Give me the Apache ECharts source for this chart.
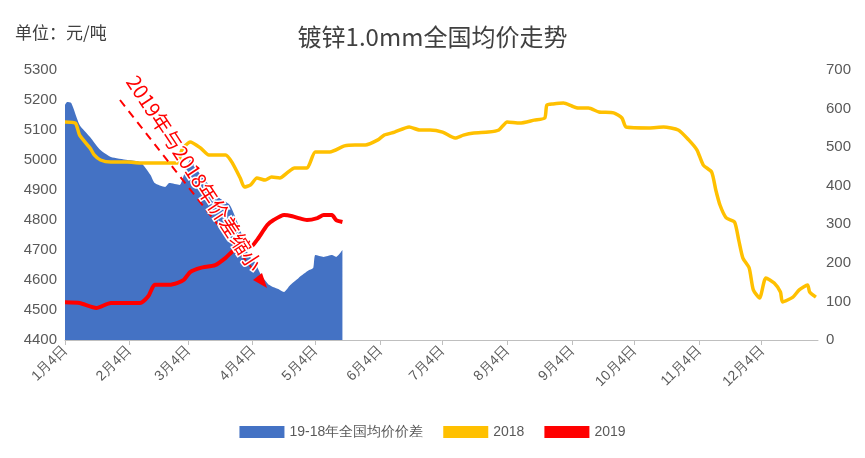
<!DOCTYPE html>
<html><head><meta charset="utf-8">
<script src="https://cdn.jsdelivr.net/npm/echarts@6/dist/echarts.min.js"></script>
<style>html,body{margin:0;padding:0;background:#fff}#c{width:865px;height:458px}</style>
</head><body><div id="c"></div>
<script>
// day offsets from Jan 4
const days2018 = [0,5,7,12,14,17,22,30,36,41,45,54,56,60,65,69,77,80,84,86,89,92,96,99,103,107,110,116,120,127,134,139,144,150,153,158,165,170,175,181,187,191,196,203,208,212,218,225,230,231,234,239,243,246,251,256,263,267,269,280,287,294,299,303,306,310,312,314,317,321,323,325,328,330,333,336,340,343,344,349,352,356,357,360];
const vals2018 = [5127,5123,5083,5040,5017,5000,4993,4993,4990,4990,4990,4990,5033,5060,5040,5017,5017,4993,4940,4910,4917,4940,4933,4943,4940,4960,4973,4973,5027,5027,5047,5050,5050,5067,5083,5093,5110,5100,5100,5093,5073,5083,5090,5093,5100,5127,5123,5133,5140,5183,5187,5190,5180,5173,5173,5160,5157,5140,5110,5107,5110,5100,5067,5033,4983,4960,4900,4850,4807,4793,4733,4673,4640,4567,4540,4607,4590,4560,4527,4543,4567,4583,4560,4543];
const days2019 = [0,7,15,22,36,40,43,50,54,57,60,65,72,77,81,85,89,92,97,100,105,109,112,116,121,124,128,130,133];
const vals2019 = [98,96,83,96,96,114,143,143,148,156,176,187,194,213,233,241,241,259,298,311,324,321,316,311,316,324,324,311,306];
const daysDiff = [0,1,3,7,12,17,22,30,36,41,43,48,50,55,57,60,65,69,74,79,84,88,91,94,98,103,105,108,112,117,119,120,124,128,130,133];
const valsDiff = [5183,5193,5190,5117,5077,5033,5010,5000,4993,4950,4923,4910,4923,4917,4950,5000,4950,4917,4873,4850,4767,4683,4660,4617,4583,4567,4560,4583,4607,4633,4640,4683,4677,4683,4677,4700];
const leftTicks = {min:4400,max:5300,interval:100};
const rightTicks = {min:0,max:700,interval:100};

const cats = [];
const d0 = new Date(2018,0,4);
for (let i=0;i<362;i++){const d=new Date(d0.getTime()+i*86400000);cats.push((d.getMonth()+1)+'月'+d.getDate()+'日');}
const isTick = (i)=> /月4日$/.test(cats[i]);
const pair=(a,b)=>a.map((d,i)=>[d,b[i]]);

const chart = echarts.init(document.getElementById('c'));
chart.setOption({
  animation:false,
  title:{text:'镀锌1.0mm全国均价走势',left:'center',top:20,textStyle:{fontSize:24,fontWeight:'normal',color:'#404040',fontFamily:'Noto Sans CJK SC'}},
  grid:{left:65,right:47,top:70,bottom:118},
  legend:{bottom:14,itemGap:20,textStyle:{fontSize:14,color:'#595959'},
    data:[{name:'19-18年全国均价价差',icon:'rect'},{name:'2018',icon:'rect'},{name:'2019',icon:'rect'}],itemWidth:45,itemHeight:12},
  xAxis:{type:'category',data:cats,boundaryGap:false,
    axisLine:{lineStyle:{color:'#bfbfbf'}},
    axisTick:{interval:(i)=>isTick(i),lineStyle:{color:'#bfbfbf'}},
    axisLabel:{interval:(i)=>isTick(i),rotate:45,fontSize:14,color:'#595959'}},
  yAxis:[{type:'value',...leftTicks,splitLine:{show:false},axisLine:{show:false},axisTick:{show:false},axisLabel:{fontSize:15,color:'#595959',formatter:(v)=>String(v)}},
         {type:'value',...rightTicks,splitLine:{show:false},axisLine:{show:false},axisTick:{show:false},axisLabel:{fontSize:15,color:'#595959'}}],
  series:[
    {name:'19-18年全国均价价差',type:'line',data:pair(daysDiff,valsDiff),showSymbol:false,smooth:0.2,lineStyle:{width:0},areaStyle:{color:'#4472c4',opacity:1},itemStyle:{color:'#4472c4'}},
    {name:'2018',type:'line',data:pair(days2018,vals2018),showSymbol:false,smooth:0.2,lineStyle:{width:3.5,color:'#ffc000'},itemStyle:{color:'#ffc000'}},
    {name:'2019',type:'line',yAxisIndex:1,data:pair(days2019,vals2019),showSymbol:false,smooth:0.2,lineStyle:{width:4,color:'#ff0000'},itemStyle:{color:'#ff0000'}}
  ],
  graphic:[
    {type:'text',left:15,top:24,z:100,style:{text:'单位：元/吨',fontSize:17,fill:'#404040',fontFamily:'Noto Sans CJK SC'}},
    {type:'line',z:100,shape:{x1:120,y1:100,x2:262,y2:281},style:{stroke:'#ff0000',lineWidth:2,lineDash:[8,6]}},
    {type:'polygon',z:100,shape:{points:[[267,288],[253,280],[262,273]]},style:{fill:'#ff0000'}},
    {type:'text',z:100,x:140,y:72,rotation:-0.99,style:{text:'2019年与2018年价差缩小',fontSize:20,fill:'#ff0000',stroke:'#fff',lineWidth:3,fontFamily:'Noto Sans CJK SC'}}
  ]
});
</script></body></html>
